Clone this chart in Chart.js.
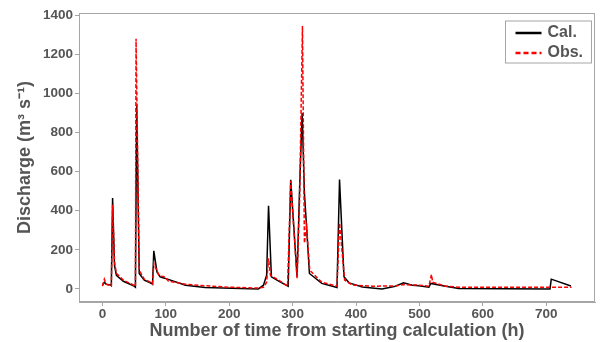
<!DOCTYPE html>
<html>
<head>
<meta charset="utf-8">
<script src="https://cdn.jsdelivr.net/npm/chart.js@4.4.0/dist/chart.umd.min.js"></script>
<style>
  html, body { margin: 0; padding: 0; background: #fff; }
  #wrap { width: 600px; height: 342px; }
</style>
</head>
<body>
<div id="wrap"><canvas id="myChart" width="600" height="342"></canvas></div>
<script>
// data (hours, m3/s)
const calHours = [0,3,6,14,16,19,22,33,50,52,54,58,66,77,79,81,86,91,98,131,162,246,254,259,262,266.5,278,293,297,307,311,315,318.6,322,326.5,346,370,374,381,389,410,441,462,475,489,499,515,518,541,562,706,708,739];
const calFlow  = [19,34,24,19,465,120,70,39,14,9,943,79,45,29,24,195,87,62,55,19,7,0,19,70,426,62,40,14,558,62,515,900,490,318,79,28,7,560,62,31,10,0,14,31,19,16,9,28,14,2,0,50,15];

const obsHours = [0,3,6,14,16,19,22,33,50,52,53,58,66,77,79,81,82,85,90,98,104,131,162,199,246,254,259,262,265,278,292,297,307,311,315.5,318.6,322,323.5,327,346,370,374,382,394,425,462,475,499,515,519,521,541,562,740];
const obsFlow  = [14,50,24,14,430,137,80,45,18,12,1280,96,50,32,26,130,120,100,65,62,40,24,16,9,4,8,34,157,70,45,14,553,55,455,1345,234,318,250,96,34,14,337,45,20,14,15,22,19,14,74,34,14,9,8];

const xTicks = [0,100,200,300,400,500,600,700];
const yTicks = [0,200,400,600,800,1000,1200,1400];

const seriesNames = ['Cal.', 'Obs.'];

const gray = '#a6a6a6';
const textGray = '#555555';

function toPoints(xs, ys) {
    return xs.map((x, i) => ({x: x, y: ys[i]}));
}

// box round the plot + legend in the top right corner
const frameAndLegend = {
    id: 'frameAndLegend',
    afterDraw(chart) {
        const ctx = chart.ctx;
        const a = chart.chartArea;
        ctx.save();
        ctx.strokeStyle = gray;
        ctx.lineWidth = 1;
        ctx.strokeRect(a.left + 0.5, a.top + 0.5, a.right - a.left - 1, a.bottom - a.top - 1);

        // legend
        const bx = a.right - 89.5, by = a.top + 8;
        ctx.strokeRect(bx, by, 86, 42);
        ctx.lineWidth = 2.5;
        ctx.strokeStyle = '#000';
        ctx.beginPath();
        ctx.moveTo(bx + 10, by + 12);
        ctx.lineTo(bx + 36, by + 12);
        ctx.stroke();
        ctx.strokeStyle = '#ff0000';
        ctx.setLineDash([5, 3]);
        ctx.beginPath();
        ctx.moveTo(bx + 10, by + 32);
        ctx.lineTo(bx + 36, by + 32);
        ctx.stroke();
        ctx.setLineDash([]);
        ctx.fillStyle = textGray;
        ctx.font = 'bold 16px "Liberation Sans", Arial, sans-serif';
        ctx.textBaseline = 'middle';
        ctx.fillText(seriesNames[0], bx + 42, by + 12);
        ctx.fillText(seriesNames[1], bx + 42, by + 32);
        ctx.restore();
    }
};

Chart.defaults.font.family = '"Liberation Sans", Arial, sans-serif';

const ctx = document.getElementById('myChart').getContext('2d');
const myChart = new Chart(ctx, {
    type: 'line',
    data: {
        datasets: [
            {
                label: seriesNames[0],
                data: toPoints(calHours, calFlow),
                borderColor: '#000000',
                borderWidth: 1.5,
                pointRadius: 0,
                tension: 0,
                order: 2
            },
            {
                label: seriesNames[1],
                data: toPoints(obsHours, obsFlow),
                borderColor: '#ff0000',
                borderWidth: 1.5,
                borderDash: [4, 2],
                pointRadius: 0,
                tension: 0,
                order: 1
            }
        ]
    },
    options: {
        responsive: false,
        animation: false,
        layout: { padding: { left: 0, right: 5, top: 13, bottom: 0 } },
        plugins: {
            legend: { display: false },
            tooltip: { enabled: false }
        },
        scales: {
            x: {
                type: 'linear',
                min: -37,
                max: 777,
                afterBuildTicks: s => { s.ticks = xTicks.map(v => ({value: v})); },
                afterFit: s => { s.height = 40; },
                border: { color: gray, width: 1 },
                grid: { display: true, drawOnChartArea: false, drawTicks: true, tickLength: 4, color: gray },
                ticks: {
                    color: textGray,
                    padding: 0,
                    maxRotation: 0,
                    callback: v => String(v),
                    font: { size: 13.5, weight: 'bold' }
                },
                title: {
                    display: true,
                    text: 'Number of time from starting calculation (h)',
                    color: textGray,
                    padding: { top: 0, bottom: 0 },
                    font: { size: 18, weight: 'bold' }
                }
            },
            y: {
                min: -67,
                max: 1412,
                afterBuildTicks: s => { s.ticks = yTicks.map(v => ({value: v})); },
                afterFit: s => { s.width = 79; },
                border: { color: gray, width: 1 },
                grid: { display: true, drawOnChartArea: false, drawTicks: true, tickLength: 4, color: gray },
                ticks: {
                    color: textGray,
                    padding: 2,
                    callback: v => String(v),
                    font: { size: 13.5, weight: 'bold' }
                },
                title: {
                    display: true,
                    text: 'Discharge (m³ s⁻¹)',
                    color: textGray,
                    padding: { top: 14, bottom: 0 },
                    font: { size: 18, weight: 'bold' }
                }
            }
        }
    },
    plugins: [frameAndLegend]
});
</script>
</body>
</html>
